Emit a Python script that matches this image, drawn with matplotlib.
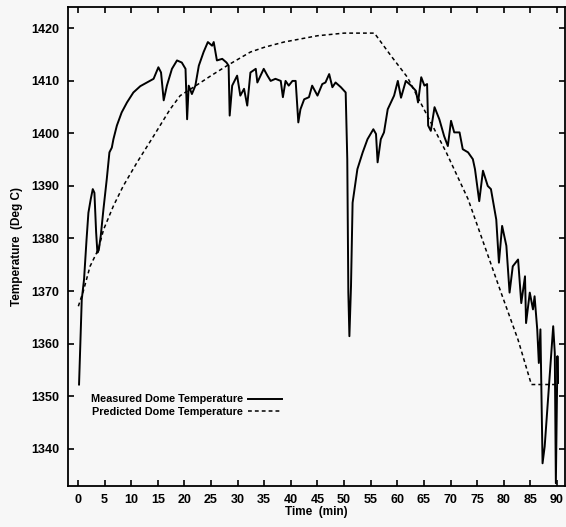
import matplotlib
matplotlib.use("Agg")
import matplotlib.pyplot as plt
import numpy as np

plt.rcParams['font.family'] = ['Liberation Sans', 'DejaVu Sans']

measured_t = [0.19, 0.7, 1.13, 1.6, 1.95, 2.39, 2.77, 3.08, 3.4, 3.64, 3.9, 4.27, 4.78, 5.4, 5.9,
              6.35, 6.65, 7.3, 8.2, 9.2, 10.4, 11.7, 12.95, 14.2, 15.1, 15.6, 16.1, 16.7, 17.65,
              18.6, 19.5, 20.2, 20.5, 20.8, 21.4, 22.05, 22.7, 23.6, 24.4, 25.2, 25.5, 26.1, 27.1,
              27.9, 28.3, 28.5, 28.97, 29.9, 30.5, 31.2, 31.8, 32.4, 33.4, 33.7, 34.9, 35.6, 36.2,
              37.1, 38.1, 38.5, 39.0, 39.6, 40.3, 40.9, 41.4, 41.8, 42.5, 43.4, 44.0, 45.0, 45.9,
              46.5, 47.2, 47.8, 48.4, 49.4, 50.3, 50.6, 50.8, 51.0, 51.3, 51.6, 52.5, 53.5, 54.4,
              55.5, 56.0, 56.3, 56.9, 57.5, 58.2, 58.8, 59.4, 60.1, 60.7, 61.6, 62.6, 63.5, 63.9,
              64.5, 65.1, 65.6, 65.8, 66.3, 67.0, 67.9, 68.8, 69.5, 70.1, 70.7, 71.7, 72.3, 73.3,
              74.2, 74.6, 75.4, 76.1, 77.0, 77.6, 78.6, 79.1, 79.7, 80.5, 81.1, 81.7, 82.7, 83.3,
              84.0, 84.2, 84.9, 85.5, 85.8, 86.3, 86.6, 86.9, 87.3, 87.7, 89.3, 89.6, 89.8, 90.1,
              90.2]
measured_T = [1352.2, 1368.4, 1372.2, 1379.8, 1384.9, 1387.5, 1389.4, 1388.7, 1381.2, 1377.3,
              1377.8, 1380.5, 1385.6, 1391.3, 1396.4, 1397.3, 1398.9, 1401.5, 1404.0, 1405.9,
              1407.8, 1409.0, 1409.7, 1410.4, 1412.6, 1411.6, 1406.3, 1409.1, 1412.3, 1413.9,
              1413.5, 1412.3, 1402.7, 1409.1, 1407.5, 1409.1, 1412.9, 1415.5, 1417.4, 1416.7,
              1417.4, 1413.9, 1414.2, 1413.5, 1412.9, 1403.4, 1409.1, 1411.0, 1407.2, 1408.5,
              1405.3, 1411.6, 1412.3, 1409.7, 1412.3, 1411.0, 1410.0, 1410.4, 1410.0, 1406.9,
              1410.0, 1409.1, 1410.0, 1410.0, 1402.1, 1404.6, 1406.5, 1406.9, 1409.1, 1407.2,
              1409.4, 1409.7, 1411.3, 1408.8, 1409.7, 1408.8, 1407.8, 1395.1, 1369.7, 1361.4,
              1370.9, 1386.8, 1393.2, 1396.4, 1398.9, 1400.8, 1399.9, 1394.5, 1398.9, 1400.2,
              1404.6, 1405.9, 1407.2, 1410.0, 1406.8, 1410.0, 1409.1, 1408.1, 1405.9, 1410.7,
              1409.1, 1409.4, 1401.5, 1400.5, 1405.0, 1402.7, 1399.5, 1397.6, 1402.4, 1400.2,
              1400.2, 1397.0, 1396.4, 1395.1, 1393.2, 1387.1, 1392.9, 1390.0, 1389.4, 1383.6,
              1375.4, 1382.4, 1378.6, 1369.7, 1374.7, 1376.0, 1367.7, 1372.8, 1363.9, 1369.7,
              1366.5, 1369.0, 1362.7, 1356.3, 1362.7, 1337.2, 1340.4, 1363.3, 1358.2, 1333.4,
              1357.6, 1352.5]

predicted_t = [0.06, 1.0, 2.26, 3.8, 4.8, 6.65, 8.5, 11.1, 14.2, 17.3, 19.2, 21.7, 25.0, 28.0,
               32.4, 35.0, 38.7, 45.0, 50.0, 55.7, 58.8, 61.9, 66.3, 69.2, 73.3, 76.4, 79.5,
               82.7, 85.2, 90.2]
predicted_T = [1367.1, 1370.0, 1374.7, 1377.9, 1381.7, 1386.2, 1390.0, 1394.5, 1399.5, 1404.6,
               1407.2, 1408.8, 1411.0, 1412.9, 1415.5, 1416.4, 1417.4, 1418.6, 1419.1, 1419.1,
               1414.8, 1410.7, 1402.1, 1396.4, 1387.5, 1378.6, 1369.7, 1360.7, 1352.2, 1352.2]

x_ticks = list(range(0, 91, 5))
y_ticks = list(range(1340, 1421, 10))

bg = '#f7f7f7'
fig = plt.figure(figsize=(5.66, 5.27), dpi=100, facecolor=bg)
ax = fig.add_axes([0.120, 0.078, 0.879, 0.909], facecolor=bg)

ax.plot(measured_t, measured_T, color='black', lw=1.4, label='Measured Dome Temperature')
ax.plot(predicted_t, predicted_T, color='black', lw=1.1, ls=(0, (2.5, 2)),
        label='Predicted Dome Temperature')

ax.set_xlim(-1.9, 91.6)
ax.set_ylim(1332.9, 1424.1)
ax.set_xticks(x_ticks)
ax.set_yticks(y_ticks)
ax.tick_params(direction='in', top=True, right=True, length=4, width=1.2,
               labelsize=9, pad=6)
for lab in ax.get_xticklabels() + ax.get_yticklabels():
    lab.set_fontweight('bold')
for s in ax.spines.values():
    s.set_linewidth(1.3)

ax.set_xlabel('Time  (min)', fontsize=8.5, fontweight='bold', labelpad=0)
ax.set_ylabel('Temperature  (Deg C)', fontsize=8.5, fontweight='bold', labelpad=6)

leg = ax.legend(loc='upper left', bbox_to_anchor=(0.037, 0.2), frameon=False,
                markerfirst=False, handlelength=3.1, handletextpad=0.5,
                labelspacing=0.25, prop={'size': 7.8, 'weight': 'bold'},
                borderaxespad=0)

fig.savefig('out.png', dpi=100, facecolor=bg)
